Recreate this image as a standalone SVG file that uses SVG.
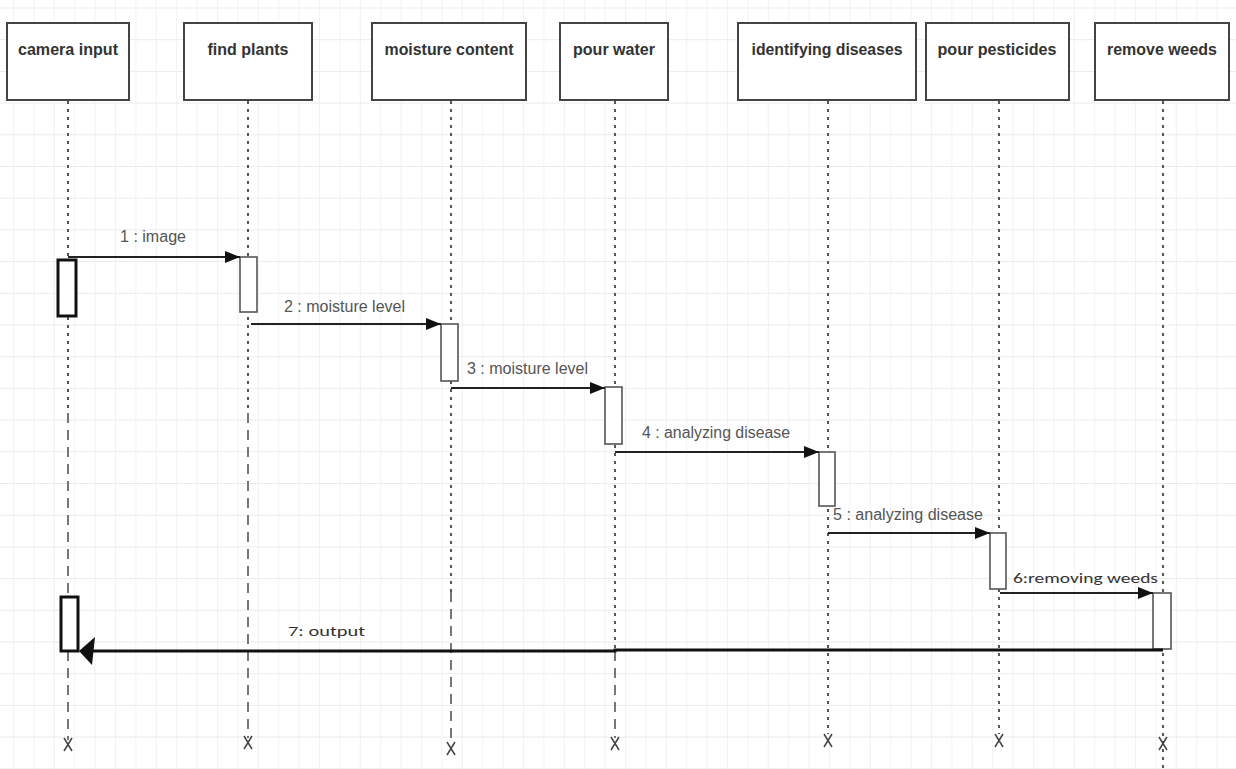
<svg xmlns="http://www.w3.org/2000/svg" width="1236" height="769" viewBox="0 0 1236 769">
<defs>
<pattern id="gv" width="20.4" height="769" patternUnits="userSpaceOnUse" x="13">
<line x1="0.5" y1="0" x2="0.5" y2="769" stroke="#f1f1f1" stroke-width="1"/>
</pattern>
<pattern id="gh" width="1236" height="31.7" patternUnits="userSpaceOnUse" y="7.5">
<line x1="0" y1="0.5" x2="1236" y2="0.5" stroke="#ebebeb" stroke-width="1.2"/>
</pattern>
<marker id="ah" markerWidth="16" markerHeight="12" refX="15" refY="6" orient="auto" markerUnits="userSpaceOnUse">
<path d="M0,0 L15,6 L0,12 Z" fill="#111"/>
</marker>
</defs>
<style>
.box{fill:#fff;stroke:#444;stroke-width:2}
.hd{font-family:"Liberation Sans Narrow","Liberation Sans",Arial,sans-serif;font-weight:bold;font-size:17px;fill:#333;text-anchor:middle}
.lb{font-family:"Liberation Sans Narrow","Liberation Sans",Arial,sans-serif;font-size:16px;fill:#555}
.lc{font-family:Carlito,"Open Sans","Liberation Sans",sans-serif;font-size:15px;fill:#333}
.dot{stroke:#555;stroke-width:2;stroke-dasharray:3 5;fill:none}
.dash{stroke:#555;stroke-width:1.6;stroke-dasharray:10 7;fill:none}
.act{fill:#fff;stroke:#555;stroke-width:1.6}
.actb{fill:#fff;stroke:#111;stroke-width:3}
.msg{stroke:#222;stroke-width:2;fill:none}
.xm{stroke:#444;stroke-width:1.5;fill:none}
</style>
<rect width="1236" height="769" fill="#fff"/>
<rect width="1236" height="769" fill="url(#gv)"/>
<rect width="1236" height="769" fill="url(#gh)"/>

<g id="lifelines">
<path class="dot" d="M68,101 V413"/><path class="dash" d="M68,413 V740"/>
<path class="dot" d="M248,101 V413"/><path class="dash" d="M248,413 V738"/>
<path class="dot" d="M451,101 V592"/><path class="dash" d="M451,592 V743"/>
<path class="dot" d="M615,101 V651"/><path class="dash" d="M615,651 V738"/>
<path class="dot" d="M828,101 V734"/>
<path class="dot" d="M999,101 V734"/>
<path class="dot" d="M1163,101 V769"/>
</g>

<g id="camera-input">
<rect class="box" x="7" y="23" width="122" height="77"/>
<text class="hd" x="68" y="55" textLength="100" lengthAdjust="spacingAndGlyphs">camera input</text>
<rect class="actb" x="58" y="260" width="18" height="56"/>
<rect class="actb" x="61" y="597" width="17" height="54"/>
<path class="xm" d="M64,738 L72,751 M72,738 L64,751"/>
</g>
<g id="find-plants">
<rect class="box" x="184" y="23" width="128" height="77"/>
<text class="hd" x="248" y="55" textLength="81" lengthAdjust="spacingAndGlyphs">find plants</text>
<rect class="act" x="240" y="257" width="17" height="55"/>
<path class="xm" d="M244,736 L252,749 M252,736 L244,749"/>
</g>
<g id="moisture-content">
<rect class="box" x="372" y="23" width="154" height="77"/>
<text class="hd" x="449" y="55" textLength="129" lengthAdjust="spacingAndGlyphs">moisture content</text>
<rect class="act" x="441" y="324" width="17" height="57"/>
<path class="xm" d="M447,742 L455,755 M455,742 L447,755"/>
</g>
<g id="pour-water">
<rect class="box" x="560" y="23" width="108" height="77"/>
<text class="hd" x="614" y="55" textLength="82" lengthAdjust="spacingAndGlyphs">pour water</text>
<rect class="act" x="605" y="387" width="17" height="57"/>
<path class="xm" d="M611,737 L619,750 M619,737 L611,750"/>
</g>
<g id="identifying-diseases">
<rect class="box" x="738" y="23" width="178" height="77"/>
<text class="hd" x="827" y="55" textLength="151" lengthAdjust="spacingAndGlyphs">identifying diseases</text>
<rect class="act" x="819" y="452" width="16" height="54"/>
<path class="xm" d="M824,734 L832,747 M832,734 L824,747"/>
</g>
<g id="pour-pesticides">
<rect class="box" x="926" y="23" width="143" height="77"/>
<text class="hd" x="997" y="55" textLength="119" lengthAdjust="spacingAndGlyphs">pour pesticides</text>
<rect class="act" x="990" y="533" width="16" height="56"/>
<path class="xm" d="M995,734 L1003,747 M1003,734 L995,747"/>
</g>
<g id="remove-weeds">
<rect class="box" x="1095" y="23" width="134" height="77"/>
<text class="hd" x="1162" y="55" textLength="110" lengthAdjust="spacingAndGlyphs">remove weeds</text>
<rect class="act" x="1153" y="593" width="18" height="56"/>
<path class="xm" d="M1159,737 L1167,750 M1167,737 L1159,750"/>
</g>

<g id="connectors">
<path class="msg" d="M68,257 H240" marker-end="url(#ah)"/>
<text class="lb" x="120" y="242" textLength="66" lengthAdjust="spacingAndGlyphs">1 : image</text>
<path class="msg" d="M251,324 H441" marker-end="url(#ah)"/>
<text class="lb" x="284" y="312" textLength="121" lengthAdjust="spacingAndGlyphs">2 : moisture level</text>
<path class="msg" d="M451,388 H605" marker-end="url(#ah)"/>
<text class="lb" x="467" y="374" textLength="121" lengthAdjust="spacingAndGlyphs">3 : moisture level</text>
<path class="msg" d="M615,452 H819" marker-end="url(#ah)"/>
<text class="lb" x="642" y="438" textLength="148" lengthAdjust="spacingAndGlyphs">4 : analyzing disease</text>
<path class="msg" d="M828,533 H990" marker-end="url(#ah)"/>
<text class="lb" x="833" y="520" textLength="150" lengthAdjust="spacingAndGlyphs">5 : analyzing disease</text>
<path class="msg" d="M1000,593 H1153" marker-end="url(#ah)"/>
<text class="lc" x="1013" y="583" textLength="145" lengthAdjust="spacingAndGlyphs">6:removing weeds</text>
<path d="M1163,650 L615,650 L615,651 L90,651" stroke="#111" stroke-width="3" fill="none"/>
<path d="M79,651 L95,637 L92,665 Z" fill="#111"/>
<text class="lc" x="288" y="636" textLength="77" lengthAdjust="spacingAndGlyphs">7: output</text>
</g>
</svg>
